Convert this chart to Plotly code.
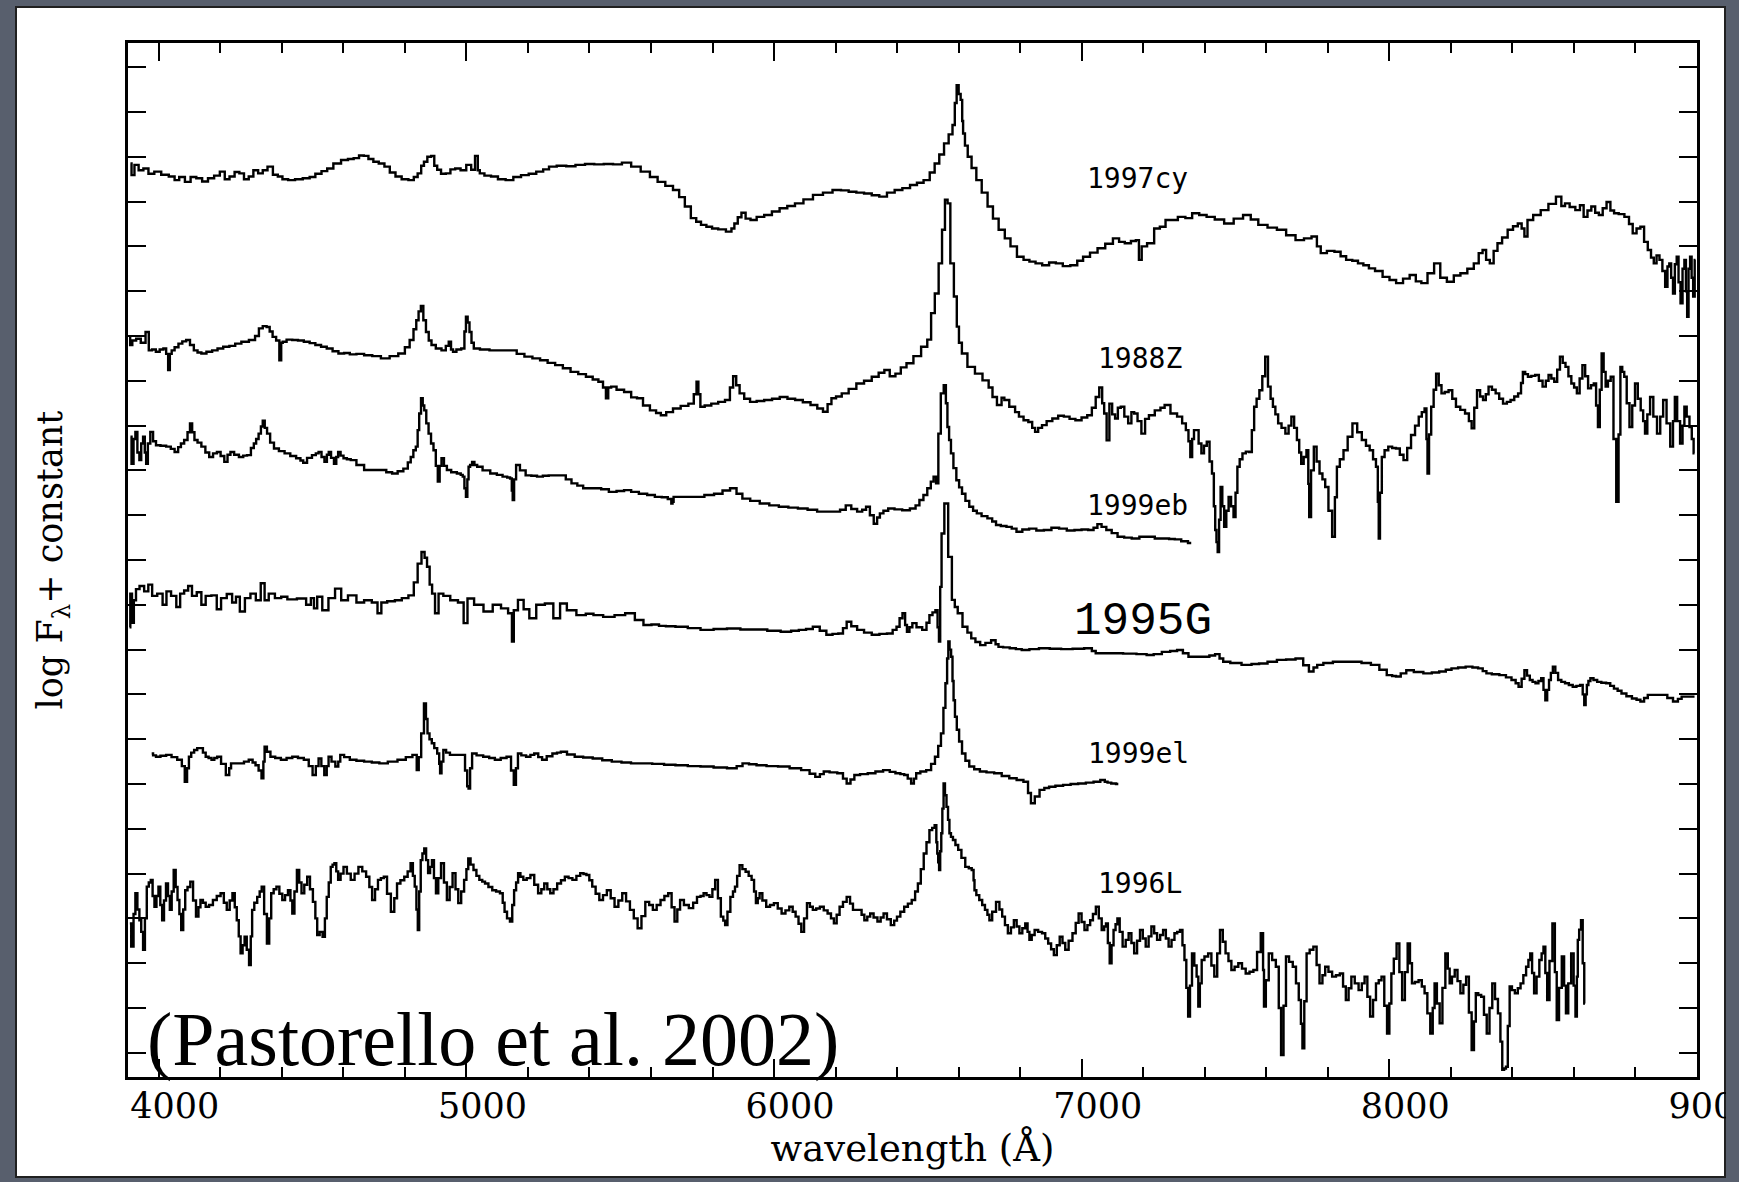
import plotly.graph_objects as go

W, H = 1739, 1182
ML, MR, MT, MB = 128, 42, 43, 105

XRANGE = [3900, 9000]
YRANGE = [-1.54, 21.54]

x_tick_vals = [4000, 5000, 6000, 7000, 8000, 9000]
x_tick_text = ["4000", "5000", "6000", "7000", "8000", "9000"]

sn_names = ["1997cy", "1988Z", "1999eb", "1995G", "1999el", "1996L"]
label_wl = [7011, 7045, 7011, 6970, 7014, 7045]
label_fl = [18.52, 14.50, 11.22, 8.62, 5.68, 2.78]

sn1997cy = [(3908,18.85),(3915,18.59),(3927,18.82),(3942,18.70),(3958,18.74),(3975,18.62),(3996,18.67),(4020,18.60),(4045,18.56),(4058,18.48),(4075,18.55),(4095,18.44),(4112,18.55),(4132,18.52),(4150,18.45),(4170,18.52),(4190,18.58),(4207,18.67),(4222,18.50),(4238,18.56),(4255,18.66),(4269,18.63),(4285,18.50),(4300,18.56),(4315,18.70),(4331,18.63),(4345,18.70),(4362,18.78),(4380,18.60),(4394,18.56),(4410,18.50),(4431,18.48),(4455,18.50),(4481,18.52),(4500,18.55),(4518,18.62),(4540,18.68),(4555,18.74),(4580,18.85),(4605,18.93),(4625,18.95),(4642,18.97),(4660,19.03),(4673,19.02),(4690,18.95),(4705,18.89),(4725,18.85),(4742,18.78),(4760,18.65),(4779,18.56),(4800,18.50),(4823,18.48),(4835,18.55),(4848,18.63),(4858,18.80),(4866,18.89),(4880,19.0),(4891,19.02),(4900,18.80),(4910,18.71),(4925,18.62),(4941,18.63),(4955,18.72),(4972,18.74),(4990,18.70),(5009,18.82),(5022,18.71),(5034,19.02),(5040,18.70),(5047,18.63),(5070,18.58),(5090,18.56),(5115,18.50),(5140,18.48),(5165,18.55),(5190,18.59),(5215,18.62),(5239,18.67),(5260,18.72),(5277,18.78),(5310,18.80),(5339,18.79),(5370,18.82),(5401,18.84),(5430,18.83),(5463,18.84),(5490,18.83),(5521,18.87),(5550,18.78),(5583,18.67),(5610,18.55),(5633,18.44),(5660,18.35),(5683,18.26),(5700,18.10),(5720,17.89),(5739,17.63),(5755,17.55),(5770,17.48),(5790,17.44),(5807,17.40),(5830,17.38),(5857,17.33),(5866,17.40),(5876,17.51),(5888,17.65),(5900,17.75),(5915,17.62),(5932,17.59),(5955,17.66),(5981,17.70),(6005,17.78),(6031,17.85),(6055,17.90),(6081,17.96),(6110,18.05),(6143,18.15),(6175,18.20),(6205,18.26),(6230,18.25),(6255,18.22),(6280,18.20),(6305,18.18),(6330,18.14),(6354,18.11),(6380,18.20),(6404,18.26),(6430,18.30),(6454,18.37),(6475,18.42),(6497,18.48),(6515,18.65),(6529,18.85),(6545,19.05),(6560,19.30),(6575,19.50),(6585,19.71),(6590,20.2),(6597,20.60),(6603,20.40),(6610,20.27),(6613,19.8),(6616,19.52),(6625,19.25),(6634,19.00),(6650,18.75),(6665,18.48),(6685,18.20),(6703,17.89),(6720,17.62),(6740,17.37),(6760,17.18),(6777,17.00),(6802,16.77),(6820,16.70),(6840,16.66),(6860,16.62),(6883,16.58),(6905,16.64),(6927,16.62),(6950,16.56),(6976,16.58),(6995,16.68),(7014,16.77),(7040,16.86),(7063,16.96),(7090,17.06),(7113,17.18),(7130,17.10),(7150,17.07),(7170,17.12),(7182,17.14),(7190,16.70),(7200,17.0),(7225,17.07),(7246,17.40),(7262,17.44),(7283,17.59),(7300,17.59),(7325,17.66),(7349,17.63),(7369,17.74),(7395,17.70),(7417,17.66),(7448,17.60),(7478,17.51),(7510,17.62),(7539,17.70),(7560,17.60),(7588,17.48),(7620,17.42),(7649,17.37),(7680,17.25),(7710,17.14),(7735,17.18),(7759,17.22),(7770,17.00),(7784,16.85),(7810,16.90),(7833,16.88),(7850,16.78),(7869,16.70),(7890,16.68),(7906,16.62),(7925,16.58),(7942,16.51),(7965,16.45),(7991,16.32),(8010,16.25),(8034,16.18),(8055,16.28),(8077,16.36),(8095,16.22),(8113,16.18),(8135,16.40),(8156,16.62),(8175,16.30),(8199,16.21),(8220,16.35),(8242,16.40),(8265,16.50),(8284,16.62),(8297,16.85),(8309,16.92),(8320,16.70),(8333,16.62),(8345,16.90),(8358,17.07),(8375,17.20),(8394,17.37),(8410,17.45),(8425,17.51),(8435,17.40),(8443,17.22),(8455,17.59),(8480,17.70),(8504,17.81),(8530,17.95),(8553,18.11),(8565,17.90),(8577,17.96),(8595,17.88),(8614,17.81),(8625,17.92),(8638,17.66),(8650,17.80),(8663,17.89),(8675,17.75),(8687,17.70),(8700,17.85),(8712,17.99),(8725,17.80),(8736,17.74),(8755,17.72),(8773,17.66),(8785,17.50),(8797,17.29),(8810,17.40),(8822,17.44),(8834,17.10),(8846,16.92),(8855,16.75),(8864,16.62),(8873,16.80),(8883,16.70),(8892,16.45),(8901,16.10),(8907,16.55),(8913,16.62),(8919,16.30),(8925,15.95),(8931,16.60),(8937,16.77),(8943,16.20),(8950,15.73),(8956,16.50),(8962,16.70),(8966,16.00),(8970,15.43),(8975,16.50),(8980,16.77),(8985,16.30),(8990,15.88),(8995,16.70)]

sn1988Z = [(3906,14.98),(3908,14.80),(3920,14.90),(3933,14.94),(3950,14.85),(3964,15.09),(3971,14.68),(3985,14.70),(3996,14.65),(4010,14.70),(4020,14.72),(4028,14.60),(4033,14.24),(4039,14.60),(4045,14.68),(4058,14.75),(4070,14.83),(4083,14.88),(4095,14.91),(4108,14.80),(4120,14.68),(4132,14.63),(4145,14.61),(4165,14.65),(4182,14.68),(4200,14.72),(4219,14.76),(4240,14.78),(4257,14.83),(4280,14.87),(4306,14.91),(4320,15.0),(4331,15.17),(4345,15.22),(4356,15.20),(4365,15.10),(4375,14.98),(4388,14.90),(4396,14.46),(4400,14.85),(4406,14.87),(4425,14.92),(4443,14.91),(4462,14.90),(4481,14.87),(4500,14.84),(4518,14.80),(4537,14.76),(4555,14.72),(4575,14.66),(4593,14.61),(4612,14.62),(4630,14.59),(4655,14.60),(4680,14.57),(4708,14.55),(4736,14.50),(4765,14.55),(4792,14.61),(4808,14.75),(4823,14.91),(4833,15.15),(4841,15.35),(4848,15.55),(4856,15.67),(4864,15.35),(4873,15.09),(4882,14.90),(4891,14.80),(4910,14.72),(4928,14.68),(4938,14.78),(4947,14.87),(4953,14.70),(4960,14.65),(4975,14.70),(4991,14.72),(4996,15.10),(5001,15.43),(5007,15.30),(5013,15.09),(5020,14.85),(5028,14.72),(5060,14.70),(5090,14.68),(5120,14.68),(5152,14.68),(5175,14.60),(5202,14.54),(5227,14.50),(5252,14.46),(5276,14.40),(5301,14.35),(5326,14.28),(5351,14.20),(5376,14.15),(5401,14.09),(5420,14.03),(5438,13.98),(5450,13.85),(5457,13.61),(5465,13.85),(5476,13.87),(5500,13.80),(5525,13.75),(5546,13.63),(5563,13.61),(5585,13.45),(5608,13.34),(5625,13.28),(5639,13.23),(5660,13.30),(5683,13.38),(5710,13.44),(5733,13.49),(5745,13.70),(5751,13.98),(5757,13.70),(5764,13.42),(5785,13.45),(5807,13.49),(5830,13.53),(5851,13.57),(5862,13.85),(5872,14.10),(5882,13.90),(5894,13.72),(5912,13.60),(5932,13.53),(5955,13.55),(5981,13.57),(6006,13.60),(6031,13.64),(6056,13.60),(6081,13.57),(6106,13.52),(6131,13.46),(6150,13.38),(6168,13.31),(6180,13.48),(6193,13.61),(6210,13.65),(6230,13.72),(6255,13.82),(6280,13.94),(6305,14.00),(6330,14.09),(6350,14.18),(6367,14.24),(6385,14.10),(6404,14.16),(6420,14.30),(6441,14.39),(6465,14.55),(6491,14.76),(6505,14.92),(6516,15.51),(6529,15.95),(6541,16.62),(6551,17.37),(6560,18.04),(6568,17.96),(6578,16.62),(6591,15.88),(6597,15.21),(6605,14.85),(6616,14.61),(6641,14.31),(6665,14.16),(6690,14.01),(6705,13.85),(6715,13.64),(6734,13.46),(6745,13.62),(6752,13.57),(6777,13.42),(6790,13.30),(6802,13.20),(6820,13.12),(6833,13.08),(6845,12.95),(6852,12.86),(6865,12.95),(6877,13.01),(6895,13.10),(6914,13.16),(6933,13.22),(6951,13.20),(6970,13.15),(6989,13.12),(7010,13.18),(7026,13.23),(7040,13.40),(7051,13.64),(7063,13.85),(7070,13.50),(7076,13.27),(7086,12.67),(7094,13.49),(7104,13.25),(7113,13.16),(7122,13.40),(7132,13.42),(7145,13.20),(7157,13.05),(7166,13.30),(7175,13.27),(7188,13.10),(7200,12.82),(7212,13.15),(7225,13.23),(7250,13.34),(7262,13.40),(7277,13.46),(7300,13.27),(7320,13.20),(7333,13.05),(7344,12.90),(7350,12.65),(7356,12.30),(7362,12.70),(7368,12.90),(7375,12.90),(7385,12.60),(7393,12.38),(7402,12.55),(7411,12.64),(7420,12.20),(7427,11.93),(7432,11.20),(7436,10.67),(7440,10.40),(7444,10.18),(7449,10.90),(7454,11.63),(7460,11.20),(7466,10.74),(7474,11.10),(7481,11.41),(7490,11.20),(7497,10.96),(7503,11.50),(7509,12.08),(7518,12.25),(7527,12.38),(7540,12.42),(7549,12.41),(7557,12.90),(7564,13.42),(7573,13.60),(7582,13.79),(7592,14.10),(7601,14.54),(7610,13.87),(7618,13.60),(7625,13.42),(7634,13.25),(7643,13.05),(7656,12.95),(7668,12.82),(7677,13.00),(7686,13.20),(7695,12.95),(7704,12.68),(7710,12.40),(7717,12.15),(7726,12.30),(7735,12.45),(7738,11.70),(7741,10.96),(7750,12.00),(7759,12.53),(7768,12.20),(7778,11.93),(7787,11.80),(7796,11.63),(7808,11.10),(7820,10.52),(7826,11.40),(7833,12.08),(7845,12.25),(7857,12.45),(7872,12.75),(7888,13.05),(7903,12.85),(7918,12.68),(7930,12.55),(7942,12.45),(7952,12.25),(7961,12.08),(7964,11.30),(7967,10.48),(7972,11.50),(7979,12.30),(7990,12.45),(8003,12.53),(8015,12.50),(8028,12.49),(8040,12.35),(8052,12.23),(8064,12.50),(8077,12.79),(8090,13.00),(8101,13.20),(8110,13.30),(8119,13.38),(8122,12.70),(8126,11.93),(8132,12.80),(8140,13.42),(8148,13.80),(8156,14.16),(8165,13.90),(8174,13.72),(8186,13.75),(8199,13.79),(8210,13.60),(8223,13.42),(8238,13.35),(8254,13.27),(8263,13.10),(8272,12.94),(8280,13.40),(8290,13.79),(8300,13.65),(8309,13.57),(8318,13.70),(8327,13.87),(8340,13.80),(8351,13.72),(8363,13.60),(8376,13.49),(8388,13.53),(8400,13.57),(8412,13.65),(8425,13.72),(8431,13.95),(8437,14.20),(8446,14.15),(8455,14.09),(8468,14.11),(8480,14.13),(8492,14.00),(8504,13.87),(8513,14.00),(8522,14.13),(8531,14.05),(8541,13.98),(8550,14.25),(8559,14.54),(8568,14.40),(8577,14.31),(8587,14.10),(8596,13.94),(8605,13.85),(8614,13.72),(8623,14.05),(8632,14.35),(8641,14.10),(8651,13.83),(8660,13.90),(8669,13.94),(8675,13.45),(8681,12.97),(8687,13.80),(8693,14.61),(8700,14.20),(8706,13.87),(8715,14.00),(8724,14.09),(8733,12.70),(8742,11.30),(8748,12.80),(8754,14.31),(8760,14.20),(8767,14.09),(8776,13.50),(8785,12.97),(8794,13.45),(8803,13.94),(8812,13.60),(8822,13.34),(8828,13.10),(8834,12.82),(8843,13.25),(8852,13.64),(8864,13.20),(8876,12.82),(8885,13.20),(8895,13.57),(8907,13.05),(8919,12.53),(8925,13.10),(8931,13.64),(8940,13.10),(8950,12.60),(8956,13.00),(8962,13.42),(8971,13.20),(8980,12.97),(8986,12.70),(8992,12.38)]

sn1999eb = [(3908,12.75),(3915,12.15),(3921,12.70),(3927,12.86),(3934,12.40),(3940,12.23),(3946,12.60),(3952,12.75),(3957,12.40),(3961,12.15),(3968,12.60),(3977,12.86),(3986,12.65),(3996,12.56),(4015,12.55),(4033,12.53),(4045,12.48),(4058,12.41),(4068,12.52),(4076,12.60),(4089,12.68),(4098,12.85),(4105,13.05),(4112,12.85),(4120,12.68),(4132,12.62),(4145,12.53),(4158,12.40),(4170,12.30),(4183,12.38),(4195,12.41),(4207,12.32),(4219,12.19),(4228,12.35),(4238,12.41),(4252,12.35),(4269,12.30),(4280,12.33),(4294,12.34),(4305,12.50),(4313,12.60),(4320,12.70),(4329,12.82),(4335,12.98),(4341,13.11),(4348,12.95),(4356,12.82),(4368,12.62),(4381,12.49),(4400,12.43),(4418,12.38),(4437,12.32),(4456,12.27),(4465,12.22),(4474,12.17),(4490,12.28),(4506,12.34),(4515,12.38),(4524,12.41),(4534,12.30),(4543,12.19),(4550,12.35),(4555,12.41),(4565,12.28),(4574,12.15),(4580,12.30),(4586,12.41),(4596,12.33),(4605,12.27),(4618,12.25),(4630,12.23),(4655,12.12),(4680,12.01),(4705,12.01),(4729,12.01),(4750,11.96),(4767,11.93),(4786,11.98),(4804,12.04),(4815,12.18),(4823,12.30),(4832,12.45),(4839,12.53),(4844,12.90),(4849,13.27),(4856,13.61),(4860,13.45),(4866,13.34),(4873,13.05),(4881,12.82),(4889,12.60),(4897,12.45),(4904,12.10),(4910,11.75),(4916,12.10),(4922,12.27),(4932,12.10),(4941,12.01),(4960,11.96),(4978,11.93),(4985,11.90),(4991,11.86),(4996,11.60),(5001,11.41),(5005,11.80),(5009,12.08),(5015,12.12),(5022,12.19),(5030,12.12),(5040,12.08),(5065,12.00),(5090,11.93),(5108,11.90),(5127,11.86),(5138,11.84),(5146,11.82),(5149,11.55),(5152,11.34),(5158,11.80),(5165,12.12),(5183,12.00),(5202,11.89),(5220,11.88),(5239,11.86),(5258,11.88),(5277,11.89),(5295,11.89),(5314,11.89),(5332,11.80),(5351,11.71),(5370,11.66),(5389,11.60),(5408,11.60),(5426,11.60),(5450,11.58),(5476,11.52),(5500,11.54),(5525,11.56),(5546,11.52),(5575,11.48),(5600,11.45),(5625,11.41),(5645,11.40),(5664,11.36),(5668,11.26),(5672,11.30),(5675,11.41),(5700,11.41),(5724,11.41),(5757,11.41),(5790,11.45),(5820,11.48),(5845,11.55),(5869,11.60),(5887,11.48),(5907,11.37),(5938,11.32),(5969,11.26),(6000,11.22),(6031,11.19),(6062,11.17),(6093,11.15),(6125,11.12),(6155,11.08),(6180,11.08),(6205,11.08),(6224,11.12),(6242,11.22),(6260,11.14),(6280,11.08),(6293,11.12),(6305,11.19),(6318,11.00),(6330,10.81),(6340,10.95),(6348,11.04),(6363,11.10),(6379,11.15),(6404,11.13),(6429,11.11),(6454,11.15),(6466,11.22),(6479,11.34),(6492,11.45),(6504,11.60),(6515,11.75),(6522,11.86),(6531,11.71),(6537,12.82),(6547,13.72),(6556,13.90),(6561,13.50),(6566,12.97),(6572,12.68),(6578,12.38),(6588,12.05),(6597,11.78),(6606,11.62),(6616,11.48),(6628,11.32),(6641,11.19),(6653,11.10),(6665,11.04),(6684,10.98),(6703,10.93),(6715,10.86),(6728,10.78),(6746,10.76),(6765,10.74),(6780,10.70),(6796,10.63),(6818,10.68),(6840,10.70),(6865,10.66),(6889,10.67),(6914,10.72),(6939,10.70),(6964,10.66),(6989,10.67),(7010,10.68),(7032,10.67),(7045,10.72),(7057,10.80),(7072,10.74),(7088,10.67),(7107,10.60),(7126,10.52),(7150,10.50),(7175,10.48),(7200,10.52),(7225,10.52),(7250,10.48),(7275,10.48),(7293,10.47),(7312,10.46),(7335,10.42),(7356,10.38)]

sn1995G = [(3905,8.50),(3910,9.25),(3916,8.60),(3922,9.10),(3930,9.35),(3945,9.42),(3960,9.30),(3972,9.45),(3985,9.20),(4005,9.25),(4020,9.00),(4030,9.30),(4050,9.20),(4064,8.95),(4075,9.25),(4090,9.32),(4101,9.42),(4115,9.20),(4132,9.28),(4145,9.00),(4160,9.20),(4182,9.21),(4195,8.90),(4210,9.15),(4232,9.24),(4245,9.05),(4257,9.18),(4270,8.85),(4290,9.15),(4306,9.25),(4325,9.10),(4338,9.48),(4350,9.10),(4365,9.25),(4390,9.15),(4406,9.18),(4430,9.12),(4468,9.14),(4490,9.00),(4499,9.15),(4510,8.92),(4520,9.18),(4543,8.88),(4560,9.15),(4586,9.36),(4600,9.10),(4630,9.21),(4655,9.05),(4680,9.10),(4705,9.05),(4717,8.81),(4730,9.05),(4755,9.08),(4780,9.10),(4800,9.15),(4823,9.21),(4835,9.50),(4848,9.92),(4860,10.18),(4868,10.05),(4876,9.85),(4885,9.45),(4892,9.25),(4904,8.81),(4915,9.25),(4935,9.20),(4960,9.10),(4985,9.05),(4997,8.59),(5010,9.14),(5040,9.00),(5071,8.85),(5100,9.00),(5125,8.92),(5146,8.81),(5150,8.18),(5158,8.88),(5177,9.11),(5195,8.90),(5214,8.70),(5240,9.00),(5270,9.03),(5295,8.70),(5314,9.03),(5339,8.88),(5376,8.77),(5400,8.80),(5426,8.77),(5463,8.73),(5500,8.77),(5532,8.81),(5563,8.66),(5588,8.55),(5615,8.56),(5637,8.53),(5660,8.52),(5699,8.51),(5740,8.48),(5782,8.44),(5825,8.46),(5869,8.47),(5912,8.45),(5956,8.45),(6000,8.42),(6043,8.40),(6068,8.42),(6093,8.44),(6115,8.46),(6137,8.51),(6160,8.42),(6180,8.33),(6200,8.35),(6218,8.36),(6230,8.48),(6242,8.62),(6260,8.52),(6280,8.44),(6305,8.38),(6330,8.33),(6355,8.35),(6379,8.36),(6392,8.44),(6404,8.51),(6412,8.70),(6423,8.81),(6429,8.55),(6435,8.40),(6445,8.50),(6454,8.59),(6472,8.50),(6491,8.44),(6500,8.60),(6510,8.77),(6520,8.83),(6529,8.88),(6534,8.50),(6538,8.18),(6542,9.40),(6547,10.59),(6560,11.26),(6572,10.07),(6584,9.11),(6591,8.95),(6603,8.81),(6622,8.51),(6635,8.38),(6647,8.25),(6662,8.17),(6678,8.10),(6696,8.15),(6715,8.21),(6725,8.12),(6734,8.06),(6755,8.05),(6777,8.03),(6795,8.01),(6815,7.99),(6845,8.01),(6877,8.03),(6915,8.02),(6951,8.01),(6990,8.02),(7026,8.03),(7040,7.97),(7051,7.92),(7080,7.92),(7113,7.92),(7156,7.91),(7200,7.90),(7222,7.88),(7246,7.90),(7275,7.95),(7300,7.97),(7320,7.99),(7338,7.92),(7356,7.84),(7380,7.84),(7405,7.84),(7425,7.87),(7442,7.90),(7454,7.80),(7466,7.73),(7500,7.70),(7539,7.66),(7565,7.68),(7588,7.69),(7620,7.73),(7649,7.77),(7680,7.78),(7710,7.80),(7730,7.65),(7747,7.51),(7760,7.60),(7771,7.66),(7800,7.70),(7833,7.73),(7865,7.73),(7894,7.73),(7925,7.70),(7955,7.66),(7980,7.55),(8003,7.43),(8015,7.41),(8028,7.40),(8046,7.47),(8064,7.54),(8095,7.50),(8126,7.47),(8150,7.49),(8174,7.51),(8193,7.55),(8211,7.58),(8236,7.60),(8260,7.62),(8280,7.60),(8297,7.58),(8310,7.52),(8321,7.47),(8345,7.45),(8370,7.43),(8388,7.38),(8406,7.32),(8415,7.25),(8425,7.17),(8435,7.35),(8443,7.54),(8452,7.42),(8461,7.32),(8470,7.28),(8480,7.25),(8489,7.30),(8498,7.36),(8504,7.10),(8510,6.87),(8516,7.10),(8522,7.32),(8528,7.48),(8535,7.62),(8544,7.48),(8553,7.32),(8565,7.28),(8577,7.25),(8590,7.21),(8602,7.17),(8614,7.19),(8626,7.21),(8631,7.00),(8636,6.76),(8640,7.00),(8644,7.21),(8650,7.30),(8657,7.36),(8670,7.32),(8681,7.28),(8697,7.26),(8712,7.25),(8724,7.19),(8736,7.13),(8748,7.08),(8761,7.02),(8780,6.96),(8797,6.91),(8810,6.88),(8822,6.84),(8834,6.92),(8846,6.99),(8870,6.99),(8895,6.99),(8912,6.92),(8932,6.84),(8944,6.90),(8956,6.95),(8975,6.95),(8992,6.95)]

sn1999el = [(3977,5.68),(3986,5.64),(3996,5.61),(4015,5.63),(4033,5.65),(4050,5.60),(4070,5.54),(4080,5.40),(4089,5.05),(4095,5.35),(4101,5.61),(4110,5.70),(4120,5.76),(4130,5.80),(4139,5.80),(4148,5.70),(4157,5.61),(4167,5.58),(4176,5.54),(4185,5.58),(4195,5.61),(4210,5.45),(4226,5.20),(4232,5.35),(4238,5.46),(4255,5.46),(4269,5.46),(4285,5.50),(4300,5.54),(4310,5.48),(4319,5.42),(4330,5.30),(4338,5.13),(4342,5.50),(4346,5.83),(4357,5.72),(4369,5.61),(4388,5.58),(4406,5.54),(4425,5.58),(4443,5.61),(4462,5.58),(4481,5.54),(4494,5.40),(4506,5.20),(4515,5.40),(4524,5.57),(4533,5.40),(4543,5.20),(4549,5.40),(4555,5.61),(4568,5.50),(4580,5.39),(4587,5.50),(4593,5.65),(4612,5.60),(4630,5.54),(4655,5.52),(4680,5.50),(4705,5.48),(4729,5.46),(4760,5.50),(4792,5.54),(4814,5.60),(4835,5.65),(4842,5.31),(4848,5.60),(4858,6.13),(4866,6.80),(4871,6.45),(4876,6.13),(4884,6.00),(4891,5.91),(4900,5.80),(4910,5.68),(4913,5.45),(4916,5.24),(4922,5.50),(4928,5.76),(4940,5.70),(4953,5.65),(4972,5.65),(4991,5.65),(5000,5.30),(5005,4.95),(5009,4.90),(5015,5.35),(5022,5.68),(5044,5.64),(5065,5.61),(5083,5.58),(5102,5.54),(5121,5.58),(5140,5.61),(5150,5.30),(5158,4.98),(5164,5.35),(5171,5.68),(5186,5.64),(5202,5.61),(5214,5.65),(5227,5.68),(5240,5.60),(5252,5.54),(5270,5.62),(5289,5.68),(5300,5.70),(5314,5.72),(5340,5.66),(5364,5.61),(5395,5.59),(5426,5.57),(5457,5.53),(5488,5.50),(5520,5.48),(5550,5.46),(5583,5.46),(5625,5.45),(5660,5.43),(5699,5.42),(5740,5.40),(5782,5.39),(5825,5.37),(5869,5.35),(5888,5.40),(5907,5.46),(5930,5.44),(5956,5.42),(5995,5.40),(6031,5.39),(6070,5.35),(6106,5.31),(6125,5.23),(6143,5.16),(6155,5.22),(6168,5.28),(6193,5.26),(6218,5.24),(6230,5.12),(6242,5.01),(6255,5.10),(6267,5.20),(6292,5.22),(6317,5.24),(6342,5.28),(6367,5.31),(6385,5.27),(6404,5.24),(6417,5.22),(6429,5.20),(6440,5.12),(6451,5.01),(6458,5.12),(6466,5.24),(6485,5.28),(6504,5.31),(6517,5.45),(6529,5.61),(6538,5.85),(6547,6.13),(6554,6.70),(6560,7.25),(6565,7.80),(6568,8.18),(6573,8.00),(6578,7.84),(6582,7.30),(6585,6.87),(6591,6.50),(6597,6.21),(6606,5.95),(6616,5.68),(6628,5.52),(6641,5.39),(6660,5.33),(6678,5.28),(6703,5.26),(6728,5.24),(6752,5.18),(6777,5.13),(6800,5.09),(6821,5.05),(6830,4.80),(6840,4.57),(6855,4.72),(6871,4.87),(6886,4.91),(6902,4.94),(6927,4.96),(6952,4.98),(6976,5.00),(7001,5.01),(7026,5.03),(7051,5.05),(7070,5.09),(7080,5.05),(7088,5.03),(7104,5.01),(7119,5.00)]

sn1996L = [(3906,1.89),(3915,1.37),(3921,2.10),(3927,2.56),(3934,2.20),(3940,1.96),(3946,1.70),(3952,1.30),(3958,2.00),(3964,2.71),(3971,2.80),(3977,2.86),(3983,2.50),(3989,2.26),(3996,2.50),(4002,2.71),(4008,2.30),(4014,1.96),(4020,2.40),(4027,2.78),(4033,2.50),(4039,2.19),(4045,2.60),(4052,3.08),(4058,2.70),(4064,2.41),(4070,2.10),(4076,1.74),(4083,2.20),(4089,2.63),(4098,2.70),(4107,2.82),(4116,2.40),(4126,2.04),(4132,2.25),(4139,2.41),(4148,2.35),(4157,2.26),(4170,2.30),(4182,2.41),(4195,2.50),(4207,2.56),(4216,2.35),(4226,2.19),(4235,2.40),(4244,2.56),(4250,2.25),(4257,1.96),(4263,1.60),(4269,1.22),(4276,1.40),(4282,1.59),(4290,1.30),(4297,0.96),(4301,1.60),(4306,2.19),(4315,2.35),(4325,2.48),(4331,2.60),(4338,2.71),(4347,2.10),(4356,1.44),(4362,2.00),(4369,2.56),(4378,2.65),(4387,2.71),(4397,2.55),(4406,2.41),(4415,2.52),(4425,2.63),(4431,2.40),(4437,2.11),(4445,2.60),(4453,3.08),(4460,2.80),(4468,2.56),(4478,2.75),(4487,2.93),(4496,2.65),(4506,2.37),(4512,2.00),(4518,1.63),(4528,1.70),(4537,1.59),(4543,2.00),(4549,2.48),(4556,2.80),(4562,3.15),(4568,3.20),(4574,3.23),(4580,3.05),(4586,2.86),(4596,3.00),(4605,3.15),(4618,3.00),(4630,2.86),(4643,3.00),(4655,3.15),(4668,3.05),(4680,2.93),(4689,2.70),(4698,2.41),(4708,2.65),(4717,2.86),(4727,2.90),(4736,2.93),(4748,2.55),(4761,2.15),(4770,2.45),(4779,2.78),(4792,2.85),(4804,2.93),(4814,3.05),(4823,3.23),(4829,2.95),(4835,2.71),(4840,2.20),(4844,1.74),(4849,2.60),(4854,3.30),(4860,3.45),(4866,3.56),(4872,3.30),(4879,3.01),(4885,3.15),(4891,3.30),(4898,2.90),(4904,2.56),(4913,2.90),(4922,3.23),(4932,2.80),(4941,2.41),(4950,2.70),(4960,3.01),(4969,2.65),(4978,2.34),(4988,2.60),(4997,2.86),(5003,3.10),(5009,3.34),(5018,3.20),(5028,3.08),(5037,2.95),(5047,2.86),(5056,2.82),(5065,2.78),(5078,2.70),(5090,2.63),(5103,2.60),(5115,2.56),(5121,2.35),(5127,2.15),(5137,2.00),(5146,1.93),(5152,2.30),(5158,2.63),(5165,2.80),(5171,3.01),(5180,2.93),(5190,2.86),(5202,2.90),(5214,2.97),(5227,2.75),(5239,2.56),(5248,2.65),(5258,2.78),(5268,2.65),(5277,2.56),(5289,2.65),(5301,2.78),(5314,2.85),(5326,2.93),(5338,2.90),(5351,2.86),(5364,2.95),(5376,3.01),(5385,2.99),(5395,2.97),(5404,2.85),(5414,2.71),(5426,2.55),(5438,2.41),(5450,2.52),(5463,2.63),(5475,2.45),(5488,2.26),(5500,2.40),(5513,2.56),(5525,2.38),(5538,2.19),(5550,2.00),(5563,1.78),(5575,2.05),(5588,2.37),(5600,2.30),(5612,2.19),(5625,2.30),(5637,2.41),(5650,2.50),(5662,2.56),(5672,2.25),(5681,1.93),(5690,2.20),(5699,2.41),(5715,2.30),(5731,2.23),(5743,2.35),(5756,2.48),(5766,2.50),(5776,2.56),(5785,2.52),(5795,2.48),(5804,2.65),(5813,2.86),(5822,2.45),(5832,2.04),(5838,1.95),(5844,1.85),(5853,2.15),(5863,2.48),(5870,2.60),(5876,2.71),(5884,2.95),(5892,3.19),(5902,3.10),(5913,3.04),(5922,2.95),(5932,2.86),(5938,2.60),(5944,2.34),(5950,2.45),(5956,2.56),(5968,2.40),(5981,2.26),(5993,2.30),(6006,2.34),(6018,2.22),(6031,2.11),(6043,2.18),(6056,2.26),(6065,2.15),(6075,2.04),(6084,1.88),(6093,1.70),(6102,2.00),(6112,2.34),(6121,2.26),(6131,2.19),(6143,2.22),(6155,2.26),(6168,2.18),(6180,2.11),(6190,2.00),(6199,1.89),(6208,2.08),(6218,2.26),(6230,2.37),(6242,2.48),(6252,2.33),(6261,2.19),(6270,2.19),(6280,2.19),(6289,2.08),(6298,1.96),(6308,2.04),(6317,2.11),(6330,2.02),(6342,1.93),(6351,2.02),(6361,2.11),(6373,1.98),(6386,1.85),(6395,1.95),(6404,2.04),(6417,2.15),(6429,2.26),(6441,2.33),(6454,2.41),(6463,2.60),(6472,2.78),(6482,3.10),(6491,3.45),(6500,3.70),(6510,3.97),(6518,4.02),(6526,4.08),(6529,3.70),(6532,3.45),(6535,3.25),(6538,3.08),(6542,3.50),(6545,3.90),(6549,4.45),(6553,5.01),(6558,4.75),(6563,4.49),(6568,4.20),(6572,3.90),(6578,3.82),(6585,3.75),(6594,3.64),(6603,3.53),(6615,3.35),(6628,3.15),(6638,3.12),(6647,3.08),(6650,2.85),(6653,2.63),(6662,2.52),(6672,2.41),(6681,2.30),(6690,2.19),(6697,2.08),(6703,1.96),(6715,2.15),(6728,2.37),(6737,2.20),(6746,2.04),(6755,1.85),(6765,1.67),(6775,1.80),(6784,1.96),(6793,1.82),(6802,1.67),(6812,1.78),(6821,1.89),(6827,1.70),(6833,1.52),(6842,1.63),(6852,1.74),(6865,1.70),(6877,1.67),(6886,1.55),(6896,1.44),(6905,1.31),(6914,1.18),(6924,1.40),(6933,1.59),(6942,1.45),(6951,1.30),(6964,1.50),(6976,1.67),(6985,1.90),(6995,2.11),(7004,1.92),(7014,1.74),(7023,1.85),(7032,1.96),(7041,2.10),(7051,2.26),(7060,2.00),(7070,1.74),(7076,1.82),(7082,1.89),(7088,1.45),(7094,1.00),(7100,1.40),(7107,1.74),(7113,1.87),(7119,2.00),(7128,1.70),(7138,1.37),(7148,1.52),(7157,1.67),(7166,1.45),(7175,1.22),(7185,1.50),(7194,1.74),(7203,1.55),(7213,1.37),(7222,1.60),(7231,1.82),(7240,1.67),(7250,1.52),(7260,1.63),(7269,1.74),(7278,1.55),(7287,1.37),(7297,1.52),(7306,1.67),(7315,1.70),(7324,1.74),(7331,1.40),(7337,1.07),(7343,0.45),(7349,-0.19),(7355,0.50),(7362,1.22),(7370,0.95),(7377,0.70),(7381,0.03),(7387,0.55),(7393,1.07),(7405,1.15),(7417,1.22),(7426,0.95),(7436,0.70),(7445,1.22),(7454,1.74),(7463,1.48),(7472,1.22),(7482,1.05),(7491,0.85),(7503,0.92),(7515,1.00),(7527,0.88),(7539,0.77),(7552,0.81),(7564,0.85),(7576,1.25),(7588,1.67),(7591,0.85),(7594,0.03),(7603,0.62),(7613,1.22),(7625,1.07),(7637,0.92),(7644,0.00),(7652,-1.05),(7660,0.05),(7668,1.15),(7680,1.03),(7692,0.92),(7701,0.55),(7710,0.18),(7715,-0.35),(7720,-0.90),(7727,0.15),(7735,1.22),(7747,1.30),(7759,1.37),(7768,0.96),(7778,0.55),(7787,0.73),(7796,0.92),(7808,0.81),(7820,0.70),(7833,0.73),(7845,0.77),(7854,0.48),(7863,0.18),(7872,0.44),(7881,0.70),(7894,0.55),(7906,0.40),(7915,0.55),(7924,0.70),(7933,0.25),(7942,-0.19),(7952,0.18),(7961,0.55),(7970,0.62),(7979,0.70),(7988,0.05),(7997,-0.57),(8003,0.10),(8010,0.77),(8019,1.10),(8028,1.44),(8037,0.80),(8046,0.18),(8055,0.80),(8064,1.44),(8070,1.00),(8077,0.55),(8089,0.58),(8101,0.62),(8110,0.48),(8119,0.33),(8128,-0.12),(8138,-0.57),(8144,0.00),(8150,0.55),(8159,0.10),(8168,-0.34),(8177,0.45),(8187,1.22),(8193,0.88),(8199,0.55),(8208,0.70),(8217,0.85),(8226,0.60),(8236,0.33),(8245,0.52),(8254,0.70),(8263,-0.10),(8272,-0.94),(8278,-0.30),(8284,0.33),(8294,0.29),(8303,0.25),(8312,-0.15),(8321,-0.57),(8330,0.00),(8339,0.55),(8348,0.20),(8358,-0.12),(8364,-0.75),(8370,-1.38),(8376,-1.35),(8382,-1.31),(8388,-0.40),(8394,0.48),(8403,0.40),(8413,0.33),(8422,0.44),(8431,0.55),(8440,0.73),(8449,0.92),(8455,1.07),(8461,1.22),(8467,0.78),(8474,0.33),(8483,0.70),(8492,1.07),(8498,1.22),(8504,1.37),(8510,0.78),(8516,0.18),(8525,1.05),(8535,1.89),(8541,0.80),(8547,-0.27),(8556,0.45),(8565,1.15),(8571,0.50),(8577,-0.12),(8586,0.55),(8596,1.22),(8602,0.50),(8608,-0.19),(8611,0.70),(8614,1.52),(8620,1.75),(8626,1.96),(8631,1.00),(8636,0.10)]

spectra = [sn1997cy, sn1988Z, sn1999eb, sn1995G, sn1999el, sn1996L]

DARK = "#585f6d"
PW = W - ML - MR
PH = H - MT - MB


def pxx(px):
    return (px - ML) / PW


def pxy(py):
    return (H - MB - py) / PH


fig = go.Figure()
for name, spec in zip(sn_names, spectra):
    fig.add_trace(go.Scatter(
        x=[p[0] for p in spec], y=[p[1] for p in spec],
        mode="lines", line=dict(color="black", width=2.4, shape="hvh"),
        name=name, showlegend=False, hoverinfo="skip"))

# empty helper trace so that the label-carrying bottom axis (x2) is drawn
fig.add_trace(go.Scatter(x=[], y=[], xaxis="x2", yaxis="y",
                         mode="lines", showlegend=False, hoverinfo="skip"))

annotations = []
for name, lx, ly in zip(sn_names, label_wl, label_fl):
    big = name == "1995G"
    annotations.append(dict(
        x=lx, y=ly, xref="x", yref="y", text=name, showarrow=False,
        xanchor="left", yanchor="middle",
        font=dict(family="Liberation Mono" if big else "DejaVu Sans Mono",
                  size=46 if big else 28, color="black")))

annotations.append(dict(
    x=pxx(145), y=pxy(1084), xref="paper", yref="paper",
    text="(Pastorello et al. 2002)", showarrow=False,
    xanchor="left", yanchor="bottom",
    font=dict(family="Liberation Serif", size=76, color="black")))

shapes = [
    dict(type="rect", xref="paper", yref="paper", layer="below",
         x0=pxx(16), x1=pxx(1725), y0=pxy(1177), y1=pxy(7),
         fillcolor="white", line=dict(color="#202020", width=2)),
    dict(type="rect", xref="paper", yref="paper", layer="above",
         x0=pxx(1726), x1=pxx(1760), y0=pxy(1200), y1=pxy(-20),
         fillcolor=DARK, line=dict(width=0)),
]

frame_axis = dict(
    showgrid=False, zeroline=False, showline=True, linecolor="black",
    linewidth=3, mirror="allticks", ticks="inside", ticklen=18,
    tickwidth=2, tickcolor="black", automargin=False,
)

fig.update_layout(
    width=W, height=H, autosize=False,
    margin=dict(l=ML, r=MR, t=MT, b=MB, pad=0),
    paper_bgcolor=DARK, plot_bgcolor="white",
    showlegend=False,
    xaxis=dict(
        range=XRANGE, tickmode="array", tickvals=x_tick_vals,
        showticklabels=False,
        minor=dict(dtick=200, tick0=4000, ticklen=10, tickwidth=2,
                   tickcolor="black", ticks="inside", showgrid=False),
        **frame_axis),
    xaxis2=dict(
        overlaying="x", anchor="y", side="bottom", range=XRANGE,
        showline=False, showgrid=False, zeroline=False, ticks="",
        tickmode="array", tickvals=x_tick_vals, ticktext=x_tick_text,
        tickfont=dict(family="DejaVu Serif", size=35, color="black"),
        ticklabelshift=16, ticklabelstandoff=5, ticklabeloverflow="allow",
        automargin=False,
        title=dict(text="wavelength (Å)", standoff=6,
                   font=dict(family="DejaVu Serif", size=37, color="black"))),
    yaxis=dict(
        range=YRANGE, dtick=5, tick0=0, showticklabels=False,
        minor=dict(dtick=1, tick0=0, ticklen=9, tickwidth=2,
                   tickcolor="black", ticks="inside", showgrid=False),
        title=dict(text="log F<sub>λ</sub>+ constant\u00a0\u00a0\u00a0\u00a0", standoff=52,
                   font=dict(family="DejaVu Serif", size=35, color="black")),
        **frame_axis),
    annotations=annotations,
    shapes=shapes,
)

fig.write_html("out.html")
